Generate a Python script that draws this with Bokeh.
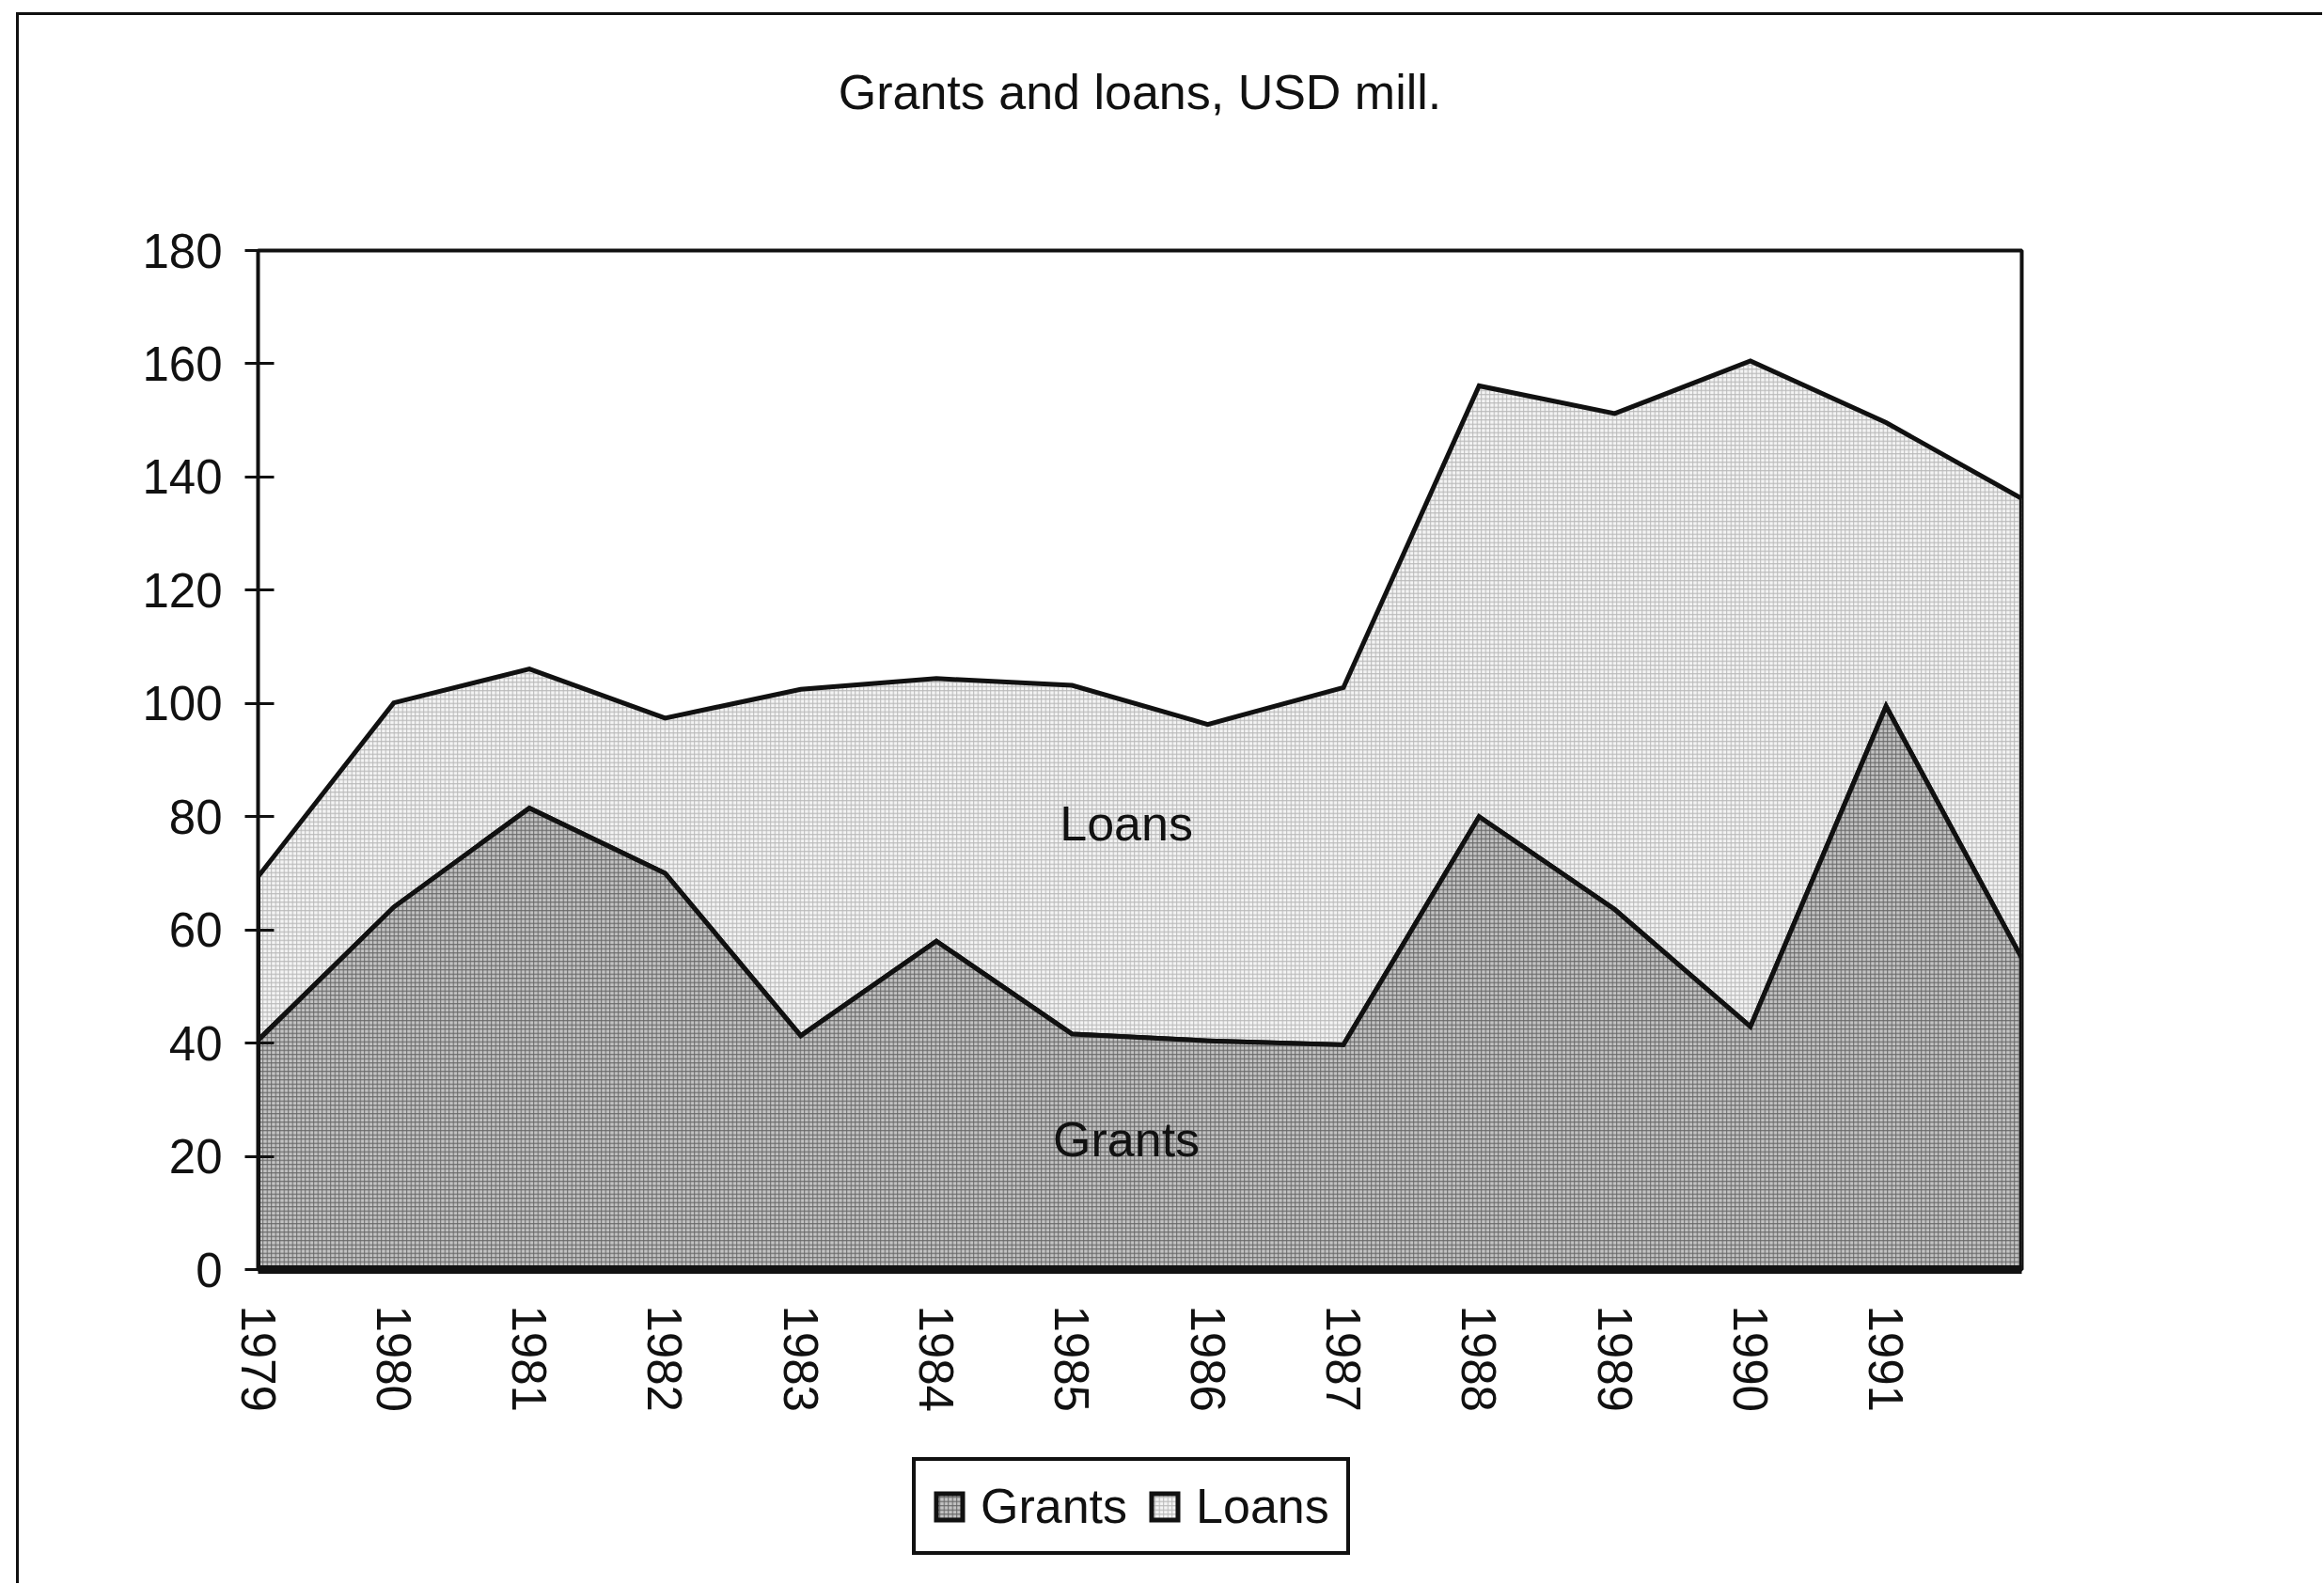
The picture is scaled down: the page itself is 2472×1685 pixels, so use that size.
from bokeh.plotting import figure
from bokeh.models import Range1d, FixedTicker, Legend, LegendItem, Title
from bokeh.layouts import column
from bokeh.embed import file_html
from bokeh.resources import INLINE
from bokeh.core.properties import value

# Annual flows, USD million
years = [1979, 1980, 1981, 1982, 1983, 1984, 1985, 1986, 1987, 1988, 1989, 1990, 1991, 1992]
grants = [40.5, 64.0, 81.5, 70.0, 41.3, 58.0, 41.6, 40.4, 39.7, 80.0, 63.6, 42.9, 99.5, 55.0]
loans = [28.9, 36.1, 24.6, 27.4, 61.2, 46.4, 61.6, 55.9, 63.1, 76.1, 87.6, 117.6, 50.1, 81.2]

tick_years = [1979, 1980, 1981, 1982, 1983, 1984, 1985, 1986, 1987, 1988, 1989, 1990, 1991]
tick_labels = ["1979", "1980", "1981", "1982", "1983", "1984", "1985",
               "1986", "1987", "1988", "1989", "1990", "1991"]
y_ticks = [0, 20, 40, 60, 80, 100, 120, 140, 160, 180]

title_text = "Grants and loans, USD mill."
series_names = ["Grants", "Loans"]

FONT = "Liberation Sans"
INK = "#111111"
PAGE_W = 2450

GRANTS_STYLE = dict(fill_color="#c3c3c3", hatch_pattern="+", hatch_color="#666666",
                    hatch_scale=4.5, hatch_weight=1,
                    line_color=INK, line_width=5, line_join="miter")
LOANS_STYLE = dict(fill_color="#f4f4f4", hatch_pattern="+", hatch_color="#b8b8b8",
                   hatch_scale=4.5, hatch_weight=1,
                   line_color=INK, line_width=5, line_join="miter")

# stacked totals: loans sit on top of grants
total = [g + l for g, l in zip(grants, loans)]
zeros = [0] * len(years)
band_x = years + years[::-1]
loans_band = total + grants[::-1]
grants_band = grants + zeros[::-1]

p = figure(
    frame_width=1876, frame_height=1084,
    output_backend="svg", toolbar_location=None,
    x_range=Range1d(years[0], years[-1]),
    y_range=Range1d(y_ticks[0], y_ticks[-1]),
    min_border_left=254, min_border_right=PAGE_W - 254 - 1876,
    min_border_top=250, min_border_bottom=0,
    title=title_text,
    background_fill_color="white", border_fill_color="white",
)

# blank band between the heading and the frame
p.add_layout(Title(text=" ", text_font_size="1px", standoff=127), "above")

p.title.text_font = FONT
p.title.text_font_size = "52px"
p.title.text_font_style = "normal"
p.title.text_color = INK
p.title.align = "center"
p.title.standoff = 20

p.outline_line_color = INK
p.outline_line_width = 4
p.grid.visible = False

# area outlines close back along the lower edge of each band
p.patch(band_x, loans_band, **LOANS_STYLE)
p.patch(band_x, grants_band, **GRANTS_STYLE)

# in-chart band names
p.text(x=[1985.4, 1985.4], y=[78.8, 23.0], text=["Loans", "Grants"],
       text_font=value(FONT), text_font_size="52px", text_color=INK,
       text_align="center", text_baseline="middle")

# axes
xa = p.xaxis[0]
xa.ticker = FixedTicker(ticks=tick_years)
xa.major_label_overrides = {y: s for y, s in zip(tick_years, tick_labels)}
xa.major_label_orientation = "vertical"
xa.major_label_text_font = FONT
xa.major_label_text_font_size = "51px"
xa.major_label_text_color = INK
xa.major_label_standoff = 38
xa.axis_line_color = INK
xa.axis_line_width = 9
xa.major_tick_in = 0
xa.major_tick_out = 0
xa.minor_tick_line_color = None

ya = p.yaxis[0]
ya.ticker = FixedTicker(ticks=y_ticks)
ya.major_label_text_font = FONT
ya.major_label_text_font_size = "51px"
ya.major_label_text_color = INK
ya.major_label_standoff = 24
ya.axis_line_color = INK
ya.axis_line_width = 3
ya.major_tick_line_color = INK
ya.major_tick_line_width = 3
ya.major_tick_in = 17
ya.major_tick_out = 14
ya.minor_tick_line_color = None

# legend strip under the chart (its frame lines up with the chart frame);
# the key renderers carry the same bands but lie outside this strip's ranges
LEG_H = 180
pl = figure(
    width=PAGE_W, height=LEG_H,
    output_backend="svg", toolbar_location=None,
    x_range=Range1d(0, 1), y_range=Range1d(0, 1),
    min_border=0, outline_line_color=None,
    background_fill_color="white", border_fill_color="white",
)
pl.axis.visible = False
pl.grid.visible = False
key_grants = pl.patch(band_x, grants_band, **GRANTS_STYLE)
key_loans = pl.patch(band_x, loans_band, **LOANS_STYLE)

legend = Legend(
    items=[LegendItem(label=series_names[0], renderers=[key_grants]),
           LegendItem(label=series_names[1], renderers=[key_loans])],
    orientation="horizontal", location=(696, 30),
    label_text_font=FONT, label_text_font_size="52px", label_text_color=INK,
    glyph_width=35, glyph_height=35, label_standoff=16, spacing=22,
    padding=18, margin=0,
    border_line_color=INK, border_line_width=4, border_line_alpha=1,
    background_fill_color="white", background_fill_alpha=1,
)
pl.add_layout(legend, "center")

page = column(p, pl, spacing=0, margin=(13, 0, 0, 17),
              styles={"border-top": "3px solid #111111",
                      "border-left": "3px solid #111111"})

open("out.html", "w").write(file_html(page, INLINE))
